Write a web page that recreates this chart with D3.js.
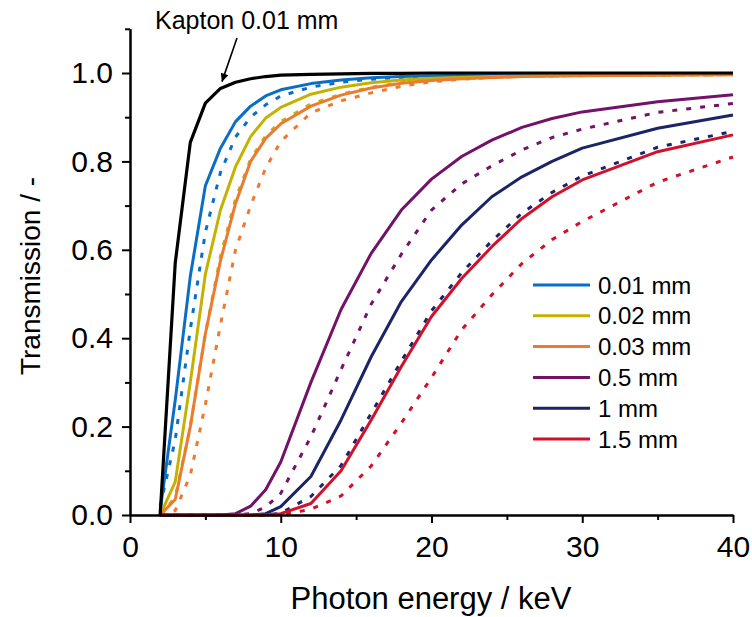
<!DOCTYPE html>
<html>
<head>
<meta charset="utf-8">
<script src="https://cdn.jsdelivr.net/npm/d3@7"></script>
<style>
  body { margin: 0; background: #fff; }
  svg { display: block; }
  text { font-family: "Liberation Sans", Arial, sans-serif; fill: #000; }
</style>
</head>
<body>
<svg id="chart" width="752" height="617"></svg>
<script>
// Photon energies (keV) at which transmission was evaluated
const energy = [2, 3, 4, 5, 6, 7, 8, 9, 10, 12, 14, 16, 18, 20, 22, 24, 26, 28, 30, 35, 40];

// Kapton window, 0.01 mm
const kapton = [0, 0.57, 0.843, 0.932, 0.965, 0.979, 0.987, 0.992, 0.995, 0.997, 0.998, 0.999, 0.999, 1, 1, 1, 1, 1, 1, 1, 1];

// Solid curves
const solid001 = [0.01, 0.26, 0.54, 0.745, 0.83, 0.89, 0.925, 0.948, 0.962, 0.976, 0.984, 0.989, 0.992, 0.994, 0.995, 0.996, 0.997, 0.997, 0.998, 0.998, 0.999];
const solid002 = [0, 0.075, 0.30, 0.545, 0.69, 0.788, 0.856, 0.898, 0.922, 0.952, 0.968, 0.978, 0.984, 0.988, 0.99, 0.992, 0.993, 0.994, 0.995, 0.996, 0.997];
const solid003 = [0, 0.035, 0.20, 0.41, 0.575, 0.705, 0.80, 0.852, 0.885, 0.925, 0.95, 0.966, 0.977, 0.983, 0.987, 0.99, 0.992, 0.993, 0.994, 0.995, 0.996];
const solid05  = [0, 0, 0, 0, 0, 0.003, 0.02, 0.057, 0.12, 0.30, 0.465, 0.592, 0.69, 0.76, 0.811, 0.848, 0.877, 0.897, 0.912, 0.935, 0.951];
const solid1   = [0, 0, 0, 0, 0, 0, 0, 0.003, 0.019, 0.087, 0.215, 0.358, 0.483, 0.577, 0.656, 0.72, 0.765, 0.80, 0.83, 0.875, 0.905];
const solid15  = [0, 0, 0, 0, 0, 0, 0, 0, 0.003, 0.026, 0.10, 0.215, 0.336, 0.449, 0.535, 0.607, 0.671, 0.72, 0.758, 0.822, 0.86];

// Dotted curves
const dotted001 = [0.02, 0.17, 0.42, 0.64, 0.775, 0.855, 0.90, 0.928, 0.948, 0.968, 0.979, 0.986, 0.99, 0.993, 0.994, 0.995, 0.996, 0.997, 0.997, 0.998, 0.998];
const dotted002 = [0, 0.04, 0.20, 0.41, 0.585, 0.715, 0.805, 0.858, 0.89, 0.93, 0.952, 0.968, 0.978, 0.984, 0.988, 0.99, 0.992, 0.993, 0.994, 0.995, 0.996];
const dotted003 = [0, 0.01, 0.09, 0.25, 0.43, 0.60, 0.70, 0.785, 0.845, 0.91, 0.937, 0.955, 0.97, 0.98, 0.986, 0.99, 0.992, 0.993, 0.994, 0.995, 0.996];
const dotted05  = [0, 0, 0, 0, 0, 0, 0.003, 0.018, 0.049, 0.177, 0.329, 0.477, 0.59, 0.69, 0.749, 0.79, 0.826, 0.854, 0.873, 0.911, 0.931];
const dotted1   = [0, 0, 0, 0, 0, 0, 0, 0, 0.004, 0.042, 0.112, 0.23, 0.348, 0.462, 0.548, 0.62, 0.683, 0.73, 0.767, 0.832, 0.868];
const dotted15  = [0, 0, 0, 0, 0, 0, 0, 0, 0, 0.013, 0.043, 0.111, 0.208, 0.311, 0.419, 0.498, 0.569, 0.623, 0.664, 0.753, 0.81];

const thicknessLabels = ["0.01 mm", "0.02 mm", "0.03 mm", "0.5 mm", "1 mm", "1.5 mm"];
const thicknessColors = ["#0A6EC6", "#C4B200", "#EC7A30", "#721268", "#1A2466", "#D2102A"];

const xMajorTicks = [0, 10, 20, 30, 40];
const xMinorTicks = [5, 15, 25, 35];
const yMajorTicks = [0, 0.2, 0.4, 0.6, 0.8, 1.0];
const yMinorTicks = [0.1, 0.3, 0.5, 0.7, 0.9, 1.1];

const xTitle = "Photon energy / keV";
const yTitle = "Transmission / -";
const kaptonLabel = "Kapton 0.01 mm";

const solidSeries = [solid001, solid002, solid003, solid05, solid1, solid15];
const dottedSeries = [dotted001, dotted002, dotted003, dotted05, dotted1, dotted15];

const svg = d3.select("#chart");

const x = d3.scaleLinear().domain([0, 40]).range([130, 733]);
const y = d3.scaleLinear().domain([0, 1.1]).range([515, 28.8]);

const line = d3.line()
  .x((d, i) => x(energy[i]))
  .y(d => y(d));

// Thickness curves: thin foils first, then the thicker plates
const curves = svg.append("g").attr("fill", "none").attr("stroke-linejoin", "round");
solidSeries.forEach((vals, i) => {
  curves.append("path")
    .attr("d", line(vals))
    .attr("stroke", thicknessColors[i])
    .attr("stroke-width", 3);
  curves.append("path")
    .attr("d", line(dottedSeries[i]))
    .attr("stroke", thicknessColors[i])
    .attr("stroke-width", 3)
    .attr("stroke-dasharray", "5,9");
});

// Kapton curve
curves.append("path")
  .attr("d", line(kapton))
  .attr("stroke", "#000")
  .attr("stroke-width", 3.2);

// Axes
function styleAxis(g) {
  g.selectAll("path.domain").attr("stroke", "#000").attr("stroke-width", 2);
  g.selectAll(".tick line").attr("stroke", "#000").attr("stroke-width", 2);
  g.selectAll(".tick text").style("font-size", "30px").attr("fill", "#000");
}

svg.append("g")
  .attr("transform", "translate(0,515)")
  .call(d3.axisBottom(x).tickValues(xMinorTicks).tickSize(5).tickSizeOuter(0).tickFormat(""))
  .call(styleAxis);
svg.append("g")
  .attr("transform", "translate(0,515)")
  .call(d3.axisBottom(x).tickValues(xMajorTicks).tickSize(8).tickSizeOuter(0).tickPadding(13).tickFormat(d3.format("d")))
  .call(styleAxis);

svg.append("g")
  .attr("transform", "translate(130,0)")
  .call(d3.axisLeft(y).tickValues(yMinorTicks).tickSize(5).tickSizeOuter(0).tickFormat(""))
  .call(styleAxis);
svg.append("g")
  .attr("transform", "translate(130,0)")
  .call(d3.axisLeft(y).tickValues(yMajorTicks).tickSize(8).tickSizeOuter(0).tickPadding(9).tickFormat(d3.format(".1f")))
  .call(styleAxis);

svg.selectAll(".domain").attr("fill", "none");

// Axis titles
svg.append("text")
  .attr("x", 431)
  .attr("y", 609)
  .attr("text-anchor", "middle")
  .style("font-size", "31px")
  .text(xTitle);

svg.append("text")
  .attr("transform", "translate(40,276) rotate(-90)")
  .attr("text-anchor", "middle")
  .style("font-size", "28px")
  .text(yTitle);

// Kapton annotation with arrow
svg.append("defs").append("marker")
  .attr("id", "arrowhead")
  .attr("viewBox", "0 0 10 10")
  .attr("refX", 10).attr("refY", 5)
  .attr("markerWidth", 10).attr("markerHeight", 8)
  .attr("markerUnits", "userSpaceOnUse")
  .attr("orient", "auto")
  .append("path").attr("d", "M0,0 L10,5 L0,10 Z").attr("fill", "#000");

svg.append("text")
  .attr("x", 155)
  .attr("y", 29)
  .style("font-size", "25px")
  .text(kaptonLabel);

svg.append("line")
  .attr("x1", 237).attr("y1", 38)
  .attr("x2", x(6.1)).attr("y2", y(0.985) + 2)
  .attr("stroke", "#000")
  .attr("stroke-width", 1.6)
  .attr("marker-end", "url(#arrowhead)");

// Legend
const legend = svg.append("g").attr("transform", "translate(533,285)");
thicknessLabels.forEach((lab, i) => {
  const g = legend.append("g").attr("transform", `translate(0,${i * 30.8})`);
  g.append("line")
    .attr("x1", 0).attr("x2", 57)
    .attr("y1", 0).attr("y2", 0)
    .attr("stroke", thicknessColors[i])
    .attr("stroke-width", 3);
  g.append("text")
    .attr("x", 65)
    .attr("y", 8.6)
    .style("font-size", "24px")
    .text(lab);
});
</script>
</body>
</html>
